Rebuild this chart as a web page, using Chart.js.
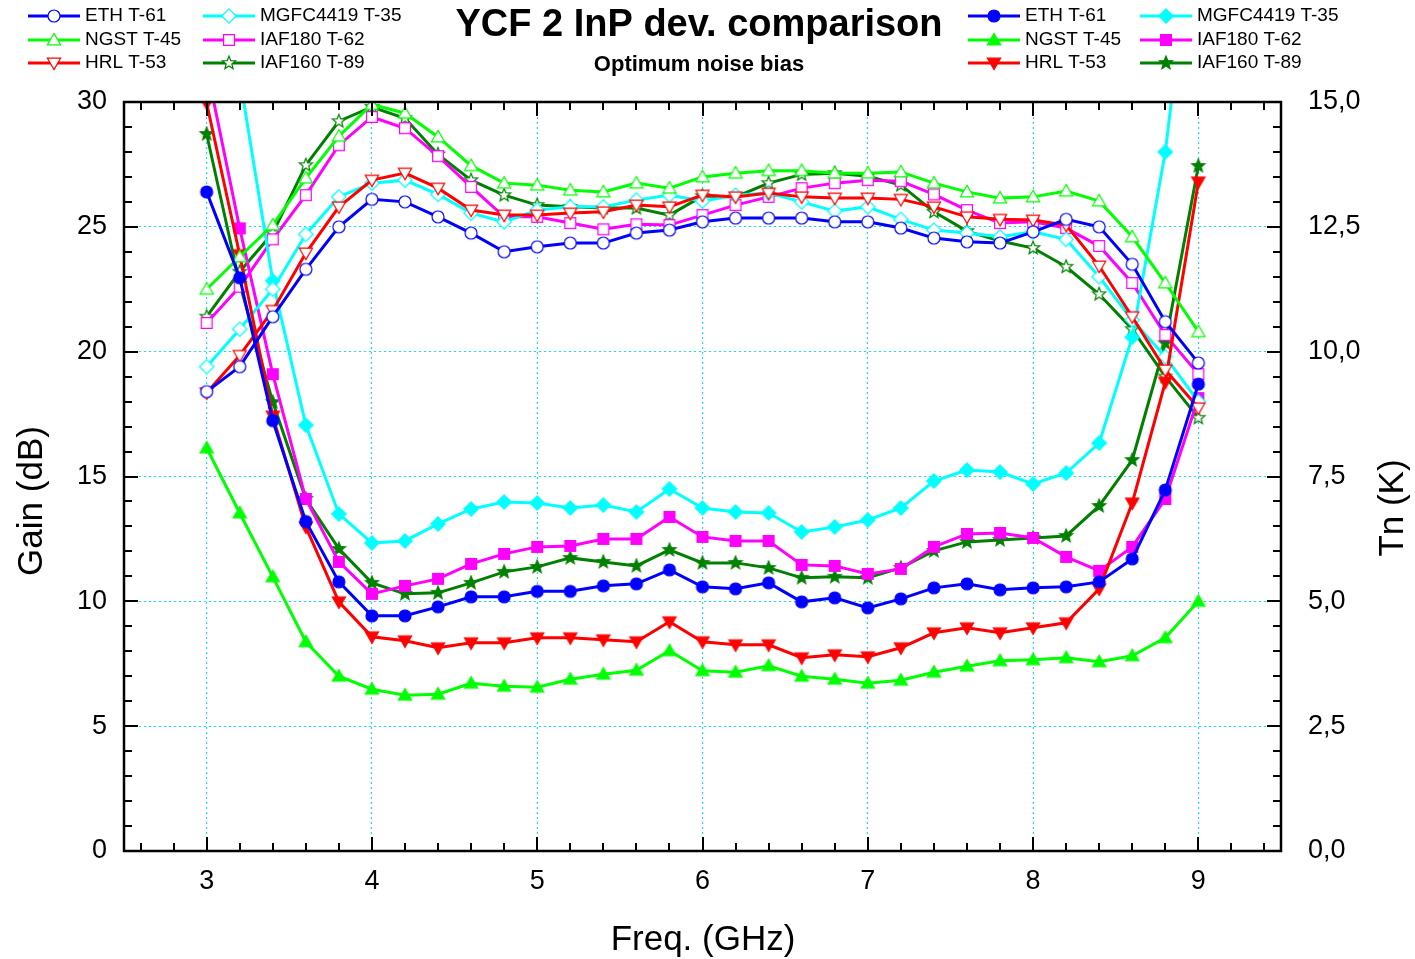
<!DOCTYPE html>
<html lang="en">
<head>
<meta charset="utf8" />
<script src="https://cdn.jsdelivr.net/npm/chart.js@4.4.1/dist/chart.umd.min.js"></script>
<title>YCF 2 InP dev. comparison</title>
<style>
    html, body { margin: 0; padding: 0; background: #fff; }
    #wrap { width: 1415px; height: 959px; position: relative; }
</style>
</head>
<body>
<div id="wrap"><canvas id="chart"></canvas></div>
<script>
// frequency points (GHz)
const freq = [3.0, 3.2, 3.4, 3.6, 3.8, 4.0, 4.2, 4.4, 4.6, 4.8, 5.0, 5.2, 5.4, 5.6, 5.8, 6.0,
    6.2, 6.4, 6.6, 6.8, 7.0, 7.2, 7.4, 7.6, 7.8, 8.0, 8.2, 8.4, 8.6, 8.8, 9.0];

// gain (dB), left axis
const ethGain = [18.4, 19.4, 21.4, 23.3, 25.0, 26.1, 26.0, 25.4, 24.75, 24.0, 24.2, 24.35, 24.35, 24.75, 24.87, 25.2,
    25.35, 25.35, 25.35, 25.2, 25.2, 24.95, 24.55, 24.4, 24.35, 24.8, 25.3, 25.0, 23.5, 21.2, 19.55];
const ngstGain = [22.5, 23.8, 25.07, 26.95, 28.63, 29.9, 29.55, 28.6, 27.45, 26.75, 26.67, 26.47, 26.4, 26.75, 26.55, 27.0,
    27.15, 27.25, 27.25, 27.15, 27.15, 27.2, 26.75, 26.4, 26.15, 26.2, 26.43, 26.03, 24.6, 22.75, 20.8];
const hrlGain = [18.35, 19.85, 21.65, 23.95, 25.8, 26.87, 27.15, 26.55, 25.67, 25.47, 25.47, 25.55, 25.6, 25.87, 25.8, 26.27,
    26.2, 26.35, 26.2, 26.15, 26.15, 26.1, 25.8, 25.4, 25.3, 25.27, 25.07, 23.43, 21.4, 19.27, 17.75];
const mgfcGain = [19.4, 20.9, 22.5, 24.7, 26.2, 26.75, 26.87, 26.3, 25.55, 25.2, 25.67, 25.8, 25.8, 26.07, 26.27, 26.03,
    26.27, 26.35, 26.0, 25.63, 25.8, 25.3, 24.87, 24.75, 24.6, 24.8, 24.5, 23.0, 21.27, 19.8, 18.0];
const iaf180Gain = [21.15, 22.6, 24.5, 26.27, 28.27, 29.4, 28.95, 27.83, 26.6, 25.4, 25.4, 25.15, 24.9, 25.1, 25.07, 25.47,
    25.87, 26.2, 26.55, 26.75, 26.87, 26.83, 26.3, 25.67, 25.15, 25.2, 24.95, 24.23, 22.75, 20.67, 19.1];
const iaf160Gain = [21.4, 23.2, 24.75, 27.47, 29.23, 29.8, 29.35, 27.9, 26.87, 26.27, 25.87, 25.8, 25.75, 25.75, 25.47, 26.23,
    26.2, 26.75, 27.1, 27.15, 27.03, 26.67, 25.6, 24.83, 24.43, 24.15, 23.4, 22.3, 20.9, 19.0, 17.35];

// noise temperature (K), right axis
const ethTn = [13.2, 11.48, 8.62, 6.6, 5.39, 4.71, 4.71, 4.89, 5.09, 5.09, 5.2, 5.2, 5.31, 5.35, 5.63, 5.29,
    5.25, 5.37, 4.99, 5.07, 4.87, 5.05, 5.27, 5.35, 5.23, 5.27, 5.29, 5.39, 5.85, 7.23, 9.35];
const ngstTn = [8.07, 6.77, 5.49, 4.19, 3.5, 3.24, 3.12, 3.14, 3.36, 3.3, 3.28, 3.44, 3.54, 3.62, 4.01, 3.61,
    3.58, 3.71, 3.5, 3.44, 3.36, 3.42, 3.58, 3.7, 3.81, 3.83, 3.87, 3.79, 3.91, 4.27, 5.0];
const hrlTn = [14.98, 11.94, 8.71, 6.49, 4.99, 4.29, 4.21, 4.07, 4.17, 4.17, 4.27, 4.27, 4.23, 4.19, 4.59, 4.19,
    4.13, 4.13, 3.87, 3.93, 3.89, 4.07, 4.37, 4.47, 4.37, 4.47, 4.57, 5.25, 6.97, 9.39, 13.4];
const mgfcTn = [19.0, 15.5, 11.42, 8.53, 6.75, 6.17, 6.21, 6.55, 6.85, 6.99, 6.97, 6.87, 6.93, 6.79, 7.25, 6.87,
    6.79, 6.77, 6.39, 6.49, 6.63, 6.87, 7.41, 7.63, 7.59, 7.35, 7.57, 8.17, 10.29, 14.0, 19.5];
const iaf180Tn = [15.7, 12.47, 9.55, 7.05, 5.79, 5.15, 5.31, 5.45, 5.75, 5.95, 6.09, 6.11, 6.25, 6.25, 6.69, 6.29,
    6.21, 6.21, 5.73, 5.71, 5.55, 5.65, 6.09, 6.35, 6.37, 6.27, 5.89, 5.61, 6.09, 7.05, 9.07];
const iaf160Tn = [14.36, 11.36, 8.99, 7.05, 6.05, 5.37, 5.15, 5.17, 5.37, 5.59, 5.69, 5.87, 5.79, 5.71, 6.03, 5.77,
    5.77, 5.67, 5.47, 5.49, 5.47, 5.67, 6.01, 6.19, 6.23, 6.27, 6.31, 6.91, 7.83, 10.17, 13.72];

const xTicks = [3, 4, 5, 6, 7, 8, 9];

const FONT = '"Liberation Sans", Arial, sans-serif';

// device list: name, colour, marker
const devices = [
    { name: 'ETH T-61', color: '#0000ff', marker: 'circle', gain: ethGain, tn: ethTn },
    { name: 'NGST T-45', color: '#00ff00', marker: 'triUp', gain: ngstGain, tn: ngstTn },
    { name: 'HRL T-53', color: '#ff0000', marker: 'triDown', gain: hrlGain, tn: hrlTn },
    { name: 'MGFC4419 T-35', color: '#00ffff', marker: 'diamond', gain: mgfcGain, tn: mgfcTn },
    { name: 'IAF180 T-62', color: '#ff00ff', marker: 'square', gain: iaf180Gain, tn: iaf180Tn },
    { name: 'IAF160 T-89', color: '#008000', marker: 'star', gain: iaf160Gain, tn: iaf160Tn },
];

function markerPath(ctx, marker, x, y, r) {
    ctx.beginPath();
    if (marker === 'circle') {
        ctx.arc(x, y, r, 0, Math.PI * 2);
    } else if (marker === 'triUp') {
        ctx.moveTo(x, y - r * 1.1);
        ctx.lineTo(x + r * 1.1, y + r * 0.8);
        ctx.lineTo(x - r * 1.1, y + r * 0.8);
        ctx.closePath();
    } else if (marker === 'triDown') {
        ctx.moveTo(x, y + r * 1.1);
        ctx.lineTo(x + r * 1.1, y - r * 0.8);
        ctx.lineTo(x - r * 1.1, y - r * 0.8);
        ctx.closePath();
    } else if (marker === 'diamond') {
        ctx.moveTo(x, y - r * 1.2);
        ctx.lineTo(x + r * 1.2, y);
        ctx.lineTo(x, y + r * 1.2);
        ctx.lineTo(x - r * 1.2, y);
        ctx.closePath();
    } else if (marker === 'square') {
        ctx.rect(x - r * 0.9, y - r * 0.9, r * 1.8, r * 1.8);
    } else if (marker === 'star') {
        for (let i = 0; i < 10; i++) {
            const rr = i % 2 === 0 ? r * 1.15 : r * 0.5;
            const a = -Math.PI / 2 + i * Math.PI / 5;
            const px = x + rr * Math.cos(a), py = y + rr * Math.sin(a);
            if (i === 0) ctx.moveTo(px, py); else ctx.lineTo(px, py);
        }
        ctx.closePath();
    }
}

function drawMarker(ctx, marker, x, y, r, color, filled) {
    ctx.save();
    markerPath(ctx, marker, x, y, r);
    ctx.fillStyle = filled ? color : '#ffffff';
    ctx.fill();
    ctx.lineWidth = 1.2;
    ctx.strokeStyle = color;
    ctx.stroke();
    ctx.restore();
}

// marker images used as pointStyle
function markerImage(marker, color, filled) {
    const c = document.createElement('canvas');
    c.width = 18; c.height = 18;
    drawMarker(c.getContext('2d'), marker, 9, 9, 6, color, filled);
    return c;
}

const datasets = [];
devices.forEach(d => {
    datasets.push({
        label: d.name + ' gain',
        data: freq.map((f, i) => ({ x: f, y: d.gain[i] })),
        yAxisID: 'y',
        borderColor: d.color,
        borderWidth: 3,
        pointStyle: markerImage(d.marker, d.color, false),
        pointRadius: 6,
        tension: 0
    });
    datasets.push({
        label: d.name + ' Tn',
        data: freq.map((f, i) => ({ x: f, y: d.tn[i] })),
        yAxisID: 'y2',
        borderColor: d.color,
        borderWidth: 3,
        pointStyle: markerImage(d.marker, d.color, true),
        pointRadius: 6,
        tension: 0
    });
});

// frame, inward ticks, titles and the two legends
const decor = {
    id: 'decor',
    afterDraw(chart) {
        const ctx = chart.ctx;
        const a = chart.chartArea;
        const xs = chart.scales.x, ys = chart.scales.y;
        ctx.save();
        ctx.strokeStyle = '#000';
        ctx.lineWidth = 2;
        ctx.beginPath();
        for (let k = 13; k <= 47; k++) {
            const v = k / 5;
            const px = Math.round(xs.getPixelForValue(v));
            const len = k % 5 === 0 ? 14 : 8;
            ctx.moveTo(px, a.bottom); ctx.lineTo(px, a.bottom - len);
            ctx.moveTo(px, a.top); ctx.lineTo(px, a.top + len);
        }
        for (let v = 1; v < 30; v++) {
            const py = Math.round(ys.getPixelForValue(v));
            const len = v % 5 === 0 ? 14 : 8;
            ctx.moveTo(a.left, py); ctx.lineTo(a.left + len, py);
            ctx.moveTo(a.right, py); ctx.lineTo(a.right - len, py);
        }
        ctx.stroke();
        ctx.lineWidth = 2.5;
        ctx.strokeRect(a.left, a.top, a.right - a.left, a.bottom - a.top);

        // titles
        ctx.fillStyle = '#000';
        ctx.textAlign = 'center';
        ctx.textBaseline = 'alphabetic';
        ctx.font = 'bold 38px ' + FONT;
        ctx.fillText('YCF 2 InP dev. comparison', 699, 36);
        ctx.font = 'bold 22px ' + FONT;
        ctx.fillText('Optimum noise bias', 699, 71);

        ctx.font = '35px ' + FONT;
        ctx.fillText('Freq. (GHz)', 703, 950);
        ctx.save();
        ctx.translate(42, 501);
        ctx.rotate(-Math.PI / 2);
        ctx.fillText('Gain (dB)', 0, 0);
        ctx.restore();
        ctx.save();
        ctx.translate(1403, 508);
        ctx.rotate(-Math.PI / 2);
        ctx.fillText('Tn (K)', 0, 0);
        ctx.restore();

        // legends: open markers = gain (left), filled = Tn (right)
        ctx.font = '19px ' + FONT;
        ctx.textAlign = 'left';
        ctx.textBaseline = 'middle';
        const rowsY = [16, 40, 63];
        const legend = (x0, colW, filled) => {
            devices.forEach((d, i) => {
                const col = Math.floor(i / 3), row = i % 3;
                const lx = x0 + col * colW, ly = rowsY[row];
                ctx.strokeStyle = d.color;
                ctx.lineWidth = 3;
                ctx.beginPath();
                ctx.moveTo(lx, ly); ctx.lineTo(lx + 52, ly);
                ctx.stroke();
                drawMarker(ctx, d.marker, lx + 26, ly, 6, d.color, filled);
                ctx.fillStyle = '#000';
                ctx.fillText(d.name, lx + 57, ly);
            });
        };
        legend(28, 175, false);
        legend(968, 172, true);
        ctx.restore();
    }
};

const gridStyle = {
    color: '#00e8f0',
    lineWidth: 1,
    drawTicks: false
};

new Chart(document.getElementById('chart'), {
    type: 'line',
    data: { datasets },
    plugins: [decor],
    options: {
        responsive: true,
        maintainAspectRatio: false,
        animation: false,
        events: [],
        layout: { padding: { top: 102, left: 0, right: 0, bottom: 0 } },
        plugins: { legend: { display: false }, tooltip: { enabled: false }, title: { display: false } },
        scales: {
            x: {
                type: 'linear',
                min: 2.5,
                max: 9.5,
                afterBuildTicks: s => { s.ticks = xTicks.map(v => ({ value: v })); },
                afterFit: s => { s.height = 108; },
                grid: gridStyle,
                border: { display: false, dash: [2, 3] },
                ticks: { color: '#000', font: { family: FONT, size: 27 }, padding: 14 }
            },
            y: {
                position: 'left',
                min: 0,
                max: 30,
                afterFit: s => { s.width = 124; },
                grid: gridStyle,
                border: { display: false, dash: [2, 3] },
                ticks: { stepSize: 5, color: '#000', font: { family: FONT, size: 27 }, padding: 17 }
            },
            y2: {
                position: 'right',
                min: 0,
                max: 15,
                afterFit: s => { s.width = 134; },
                grid: { display: false },
                border: { display: false },
                ticks: {
                    stepSize: 2.5,
                    color: '#000',
                    font: { family: FONT, size: 27 },
                    padding: 19,
                    callback: v => v.toFixed(1).replace('.', ',')
                }
            }
        }
    }
});
</script>
</body>
</html>
